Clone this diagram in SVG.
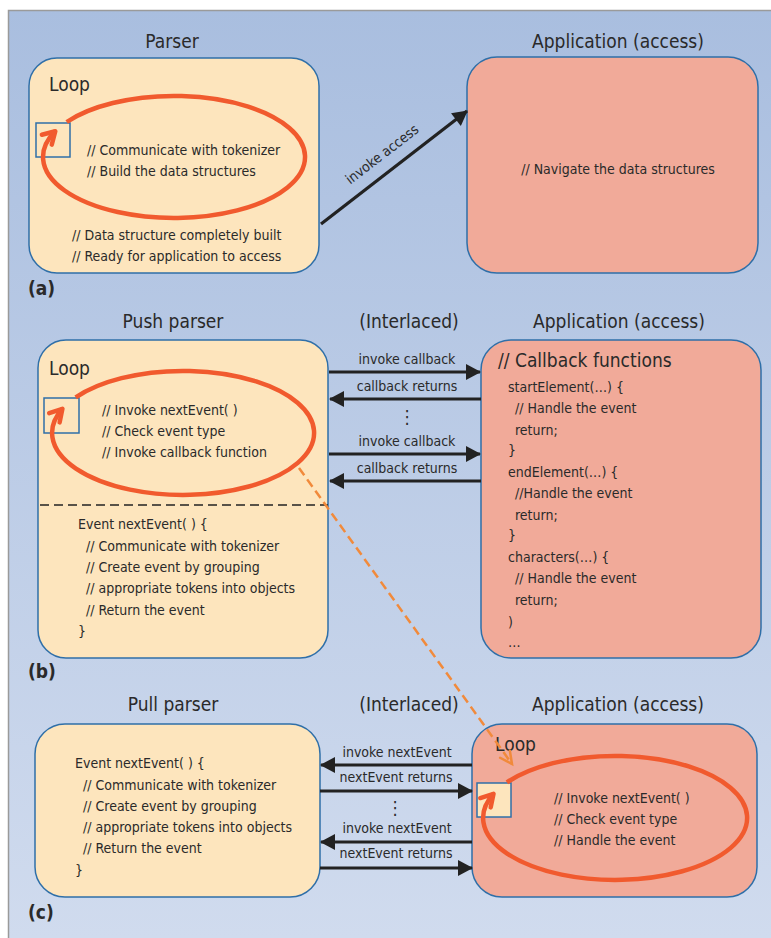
<svg xmlns="http://www.w3.org/2000/svg" width="771" height="938" viewBox="0 0 771 938">
<defs>
<linearGradient id="bg" x1="0" y1="0" x2="0" y2="1">
<stop offset="0" stop-color="#a9bedf"/>
<stop offset="1" stop-color="#d0dbee"/>
</linearGradient>
<marker id="ah" markerUnits="userSpaceOnUse" markerWidth="15" markerHeight="16" refX="14" refY="8" orient="auto" overflow="visible">
<path d="M0,0 L15,8 L0,16 z" fill="#222"/>
</marker>
<marker id="loopHead" markerUnits="userSpaceOnUse" markerWidth="16" markerHeight="16" refX="12" refY="7" orient="auto" overflow="visible">
<path d="M0,0 L12,7 L0,14" fill="none" stroke="#f15a2e" stroke-width="4.5" stroke-linecap="round" stroke-linejoin="round"/>
</marker>
<marker id="dashHead" markerUnits="userSpaceOnUse" markerWidth="14" markerHeight="14" refX="12" refY="6" orient="auto" overflow="visible">
<path d="M0,0 L12,6 L0,12" fill="none" stroke="#f18a3b" stroke-width="2.5" stroke-linecap="round"/>
</marker>
</defs>
<style>
text{font-family:"Liberation Sans Narrow","Arial Narrow","DejaVu Sans Condensed","Liberation Sans",sans-serif;font-stretch:condensed;fill:#2a2a2a}
.t{font-size:14px}
.h{font-size:19px}
.c{text-anchor:middle}
.lab{font-size:19px;font-weight:bold}
.parser{fill:#fde5bd;stroke:#2f6fa8;stroke-width:1.5}
.app{fill:#f1aa99;stroke:#2f6fa8;stroke-width:1.5}
.sq{fill:none;stroke:#2f6fa8;stroke-width:1.5}
.loop{fill:none;stroke:#f15a2e;stroke-width:4.5;marker-end:url(#loopHead)}
.conn{stroke:#222;stroke-width:3.2;fill:none;marker-end:url(#ah)}
.dots{font-family:"DejaVu Sans",sans-serif;font-size:18px;text-anchor:middle}
</style>
<rect x="0" y="0" width="771" height="938" fill="#fff"/>
<rect x="8" y="10" width="763" height="928" fill="url(#bg)"/>
<path d="M8.5,938 V10.5 H771" fill="none" stroke="#9a9a9a" stroke-width="1.5"/>

<!-- (a) -->
<text class="h c" x="172" y="48">Parser</text>
<text class="h c" x="618" y="48">Application (access)</text>
<g id="parser-a">
<rect class="parser" x="29" y="58" width="290" height="215" rx="28"/>
<text class="h" x="49" y="91">Loop</text>
<rect class="sq" x="36" y="123" width="34" height="34"/>
<path class="loop" d="M66.7,122 A131,61 0 1 1 55.3,131.2"/>
<text class="t" x="87" y="155">// Communicate with tokenizer</text>
<text class="t" x="87" y="176">// Build the data structures</text>
<text class="t" x="72" y="240">// Data structure completely built</text>
<text class="t" x="72" y="261">// Ready for application to access</text>
</g>
<g id="app-a">
<rect class="app" x="467" y="57" width="291" height="216" rx="30"/>
<text class="t c" x="618" y="174">// Navigate the data structures</text>
</g>
<text class="lab" x="28" y="295">(a)</text>

<!-- (b) -->
<text class="h c" x="173" y="328">Push parser</text>
<text class="h c" x="409" y="328">(Interlaced)</text>
<text class="h c" x="619" y="328">Application (access)</text>
<g id="parser-b">
<rect class="parser" x="38" y="340" width="290" height="318" rx="28"/>
<text class="h" x="49" y="375">Loop</text>
<rect class="sq" x="44" y="398" width="35" height="35"/>
<path class="loop" d="M75.7,397.4 A131,62 0 1 1 62.4,408.8"/>
<text class="t" x="102" y="415">// Invoke nextEvent( )</text>
<text class="t" x="102" y="436">// Check event type</text>
<text class="t" x="102" y="457">// Invoke callback function</text>
<line x1="40" y1="505" x2="328" y2="505" stroke="#222" stroke-width="1.3" stroke-dasharray="9,5"/>
<text class="t" x="78" y="529">Event nextEvent( ) {</text>
<text class="t" x="86" y="551">// Communicate with tokenizer</text>
<text class="t" x="86" y="572">// Create event by grouping</text>
<text class="t" x="86" y="593">// appropriate tokens into objects</text>
<text class="t" x="86" y="615">// Return the event</text>
<text class="t" x="78" y="636">}</text>
</g>
<g id="app-b">
<rect class="app" x="481" y="340" width="280" height="318" rx="30"/>
<text class="h" x="498" y="367">// Callback functions</text>
<text class="t" x="508" y="392">startElement(…) {</text>
<text class="t" x="515" y="413">// Handle the event</text>
<text class="t" x="515" y="435">return;</text>
<text class="t" x="508" y="455">}</text>
<text class="t" x="508" y="477">endElement(…) {</text>
<text class="t" x="515" y="498">//Handle the event</text>
<text class="t" x="515" y="520">return;</text>
<text class="t" x="508" y="540">}</text>
<text class="t" x="508" y="562">characters(…) {</text>
<text class="t" x="515" y="583">// Handle the event</text>
<text class="t" x="515" y="605">return;</text>
<text class="t" x="508" y="627">)</text>
<text class="t" x="508" y="647">…</text>
</g>
<text class="lab" x="28" y="678">(b)</text>

<!-- (c) -->
<text class="h c" x="173" y="711">Pull parser</text>
<text class="h c" x="409" y="711">(Interlaced)</text>
<text class="h c" x="618" y="711">Application (access)</text>
<g id="parser-c">
<rect class="parser" x="35" y="724" width="285" height="173" rx="30"/>
<text class="t" x="75" y="768">Event nextEvent( ) {</text>
<text class="t" x="83" y="790">// Communicate with tokenizer</text>
<text class="t" x="83" y="811">// Create event by grouping</text>
<text class="t" x="83" y="832">// appropriate tokens into objects</text>
<text class="t" x="83" y="853">// Return the event</text>
<text class="t" x="75" y="875">}</text>
</g>
<g id="app-c">
<rect class="app" x="472" y="724" width="285" height="173" rx="30"/>
<text class="h" x="495" y="751">Loop</text>
<rect x="477" y="783" width="34" height="34" fill="#fde5bd" stroke="#2f6fa8" stroke-width="1.5"/>
<path class="loop" d="M506.9,782.4 A132,62 0 1 1 493.5,793.8"/>
<text class="t" x="554" y="803">// Invoke nextEvent( )</text>
<text class="t" x="554" y="824">// Check event type</text>
<text class="t" x="554" y="845">// Handle the event</text>
</g>
<text class="lab" x="28" y="919">(c)</text>

<!-- connectors -->
<g id="connectors">
<line class="conn" x1="321" y1="224" x2="467" y2="111"/>
<text class="t c" x="385" y="158" transform="rotate(-37.7 385 158)">invoke access</text>

<line class="conn" x1="329" y1="372" x2="480" y2="372"/>
<text class="t c" x="407" y="364">invoke callback</text>
<line class="conn" x1="481" y1="399" x2="330" y2="399"/>
<text class="t c" x="407" y="391">callback returns</text>
<text class="dots" x="407" y="423">⋮</text>
<line class="conn" x1="329" y1="454" x2="480" y2="454"/>
<text class="t c" x="407" y="446">invoke callback</text>
<line class="conn" x1="481" y1="481" x2="330" y2="481"/>
<text class="t c" x="407" y="473">callback returns</text>

<line class="conn" x1="472" y1="765" x2="321" y2="765"/>
<text class="t c" x="397" y="757">invoke nextEvent</text>
<line class="conn" x1="320" y1="791" x2="472" y2="791"/>
<text class="t c" x="396" y="782">nextEvent returns</text>
<text class="dots" x="395" y="814">⋮</text>
<line class="conn" x1="472" y1="842" x2="321" y2="842"/>
<text class="t c" x="397" y="833">invoke nextEvent</text>
<line class="conn" x1="320" y1="868" x2="472" y2="868"/>
<text class="t c" x="396" y="858">nextEvent returns</text>

<line x1="299" y1="468" x2="512" y2="764" stroke="#f18a3b" stroke-width="2.5" stroke-dasharray="9,5" marker-end="url(#dashHead)"/>
</g>
</svg>
